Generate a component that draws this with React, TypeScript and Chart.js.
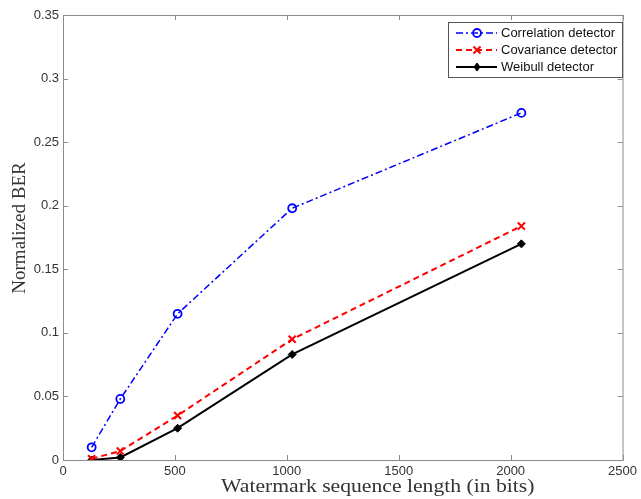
import React, { useEffect, useRef } from "react";
import { Chart, registerables } from "chart.js";

Chart.register(...registerables);

const xValues = [128, 256, 512, 1024, 2048];
const correlation = [0.01, 0.048, 0.115, 0.198, 0.273];
const covariance = [0.001, 0.007, 0.035, 0.095, 0.184];
const weibull = [0.0, 0.002, 0.025, 0.083, 0.17];
const seriesNames = ["Correlation detector", "Covariance detector", "Weibull detector"];
const xTitle = "Watermark sequence length (in bits)";
const yTitle = "Normalized BER";

const frameColor = "#8c8c8c";

function drawMarker(ctx: CanvasRenderingContext2D, style: string, x: number, y: number, r: number, stroke: string, fill: string, lw: number) {
  ctx.save();
  ctx.setLineDash([]);
  ctx.strokeStyle = stroke;
  ctx.fillStyle = fill;
  ctx.lineWidth = lw;
  ctx.beginPath();
  if (style === "circle") {
    ctx.arc(x, y, r, 0, Math.PI * 2);
    ctx.stroke();
  } else if (style === "crossRot") {
    const d = r * Math.SQRT1_2;
    ctx.moveTo(x - d, y - d);
    ctx.lineTo(x + d, y + d);
    ctx.moveTo(x + d, y - d);
    ctx.lineTo(x - d, y + d);
    ctx.stroke();
  } else {
    ctx.moveTo(x, y - r);
    ctx.lineTo(x + r * 0.75, y);
    ctx.lineTo(x, y + r);
    ctx.lineTo(x - r * 0.75, y);
    ctx.closePath();
    ctx.fill();
    ctx.stroke();
  }
  ctx.restore();
}

const framePlugin = {
  id: "matlabFrame",
  afterDraw(chart: any) {
    const { ctx, chartArea } = chart;
    const { left, right, top, bottom } = chartArea;
    const xs = chart.scales.x;
    const ys = chart.scales.y;
    ctx.save();
    ctx.strokeStyle = frameColor;
    ctx.lineWidth = 1;
    ctx.setLineDash([]);
    ctx.strokeRect(left + 0.5, top + 0.5, right - left, bottom - top);
    const tl = 5;
    ctx.beginPath();
    xs.ticks.forEach((t: any) => {
      const px = Math.round(xs.getPixelForValue(t.value)) + 0.5;
      ctx.moveTo(px, bottom);
      ctx.lineTo(px, bottom - tl);
      ctx.moveTo(px, top);
      ctx.lineTo(px, top + tl);
    });
    ys.ticks.forEach((t: any) => {
      const py = Math.round(ys.getPixelForValue(t.value)) + 0.5;
      ctx.moveTo(left, py);
      ctx.lineTo(left + tl, py);
      ctx.moveTo(right, py);
      ctx.lineTo(right - tl, py);
    });
    ctx.stroke();

    // axis titles
    ctx.fillStyle = "#333";
    ctx.font = '19px "Liberation Serif", serif';
    ctx.textAlign = "center";
    ctx.textBaseline = "middle";
    ctx.save();
    ctx.translate((left + right) / 2 + 35, 487);
    ctx.scale(1.14, 1);
    ctx.fillText(xTitle, 0, 0);
    ctx.restore();

    ctx.save();
    ctx.translate(20, 228);
    ctx.rotate(-Math.PI / 2);
    ctx.fillText(yTitle, 0, 0);
    ctx.restore();

    // legend
    const bx = 448, by = 22, bw = 174, bh = 55;
    ctx.fillStyle = "#fff";
    ctx.fillRect(bx, by, bw, bh);
    ctx.strokeStyle = "#555";
    ctx.lineWidth = 1;
    ctx.strokeRect(bx + 0.5, by + 0.5, bw, bh);
    ctx.font = '13px "Liberation Sans", Arial, sans-serif';
    ctx.textAlign = "left";
    chart.data.datasets.forEach((ds: any, i: number) => {
      const yy = by + 11 + i * 17;
      ctx.save();
      ctx.strokeStyle = ds.borderColor;
      ctx.lineWidth = ds.borderWidth;
      ctx.setLineDash(ds.borderDash || []);
      ctx.beginPath();
      ctx.moveTo(bx + 8, yy);
      ctx.lineTo(bx + 49, yy);
      ctx.stroke();
      ctx.restore();
      drawMarker(ctx, ds.pointStyle, bx + 29, yy, ds.pointRadius, ds.pointBorderColor, ds.pointBackgroundColor, ds.pointBorderWidth);
      ctx.fillStyle = "#111";
      ctx.fillText(ds.label, bx + 53, yy + 0.5);
    });
    ctx.restore();
  },
};

export default function App() {
  const ref = useRef<HTMLCanvasElement>(null);
  useEffect(() => {
    document.body.style.margin = "0";
    const canvas = ref.current!;
    const chart = new Chart(canvas, {
      type: "line",
      data: {
        datasets: [
          {
            label: seriesNames[0],
            data: xValues.map((x, i) => ({ x, y: correlation[i] })),
            borderColor: "#0000ff",
            borderWidth: 1.5,
            borderDash: [7, 3, 2, 3],
            pointStyle: "circle",
            pointRadius: 4,
            pointBorderColor: "#0000ff",
            pointBackgroundColor: "rgba(255,255,255,0)",
            pointBorderWidth: 1.8,
            tension: 0,
          } as any,
          {
            label: seriesNames[1],
            data: xValues.map((x, i) => ({ x, y: covariance[i] })),
            borderColor: "#ff0000",
            borderWidth: 2,
            borderDash: [6, 4],
            pointStyle: "crossRot",
            pointRadius: 5,
            pointBorderColor: "#ff0000",
            pointBackgroundColor: "#ff0000",
            pointBorderWidth: 2,
            tension: 0,
          } as any,
          {
            label: seriesNames[2],
            data: xValues.map((x, i) => ({ x, y: weibull[i] })),
            borderColor: "#000000",
            borderWidth: 2,
            borderDash: [],
            pointStyle: "rectRot",
            pointRadius: 4,
            pointBorderColor: "#000000",
            pointBackgroundColor: "#000000",
            pointBorderWidth: 1,
            tension: 0,
          } as any,
        ],
      },
      options: {
        animation: false,
        responsive: false,
        devicePixelRatio: 1,
        layout: { padding: { top: 15, right: 14, left: 0, bottom: 0 } },
        plugins: { legend: { display: false }, tooltip: { enabled: false } },
        scales: {
          x: {
            type: "linear",
            min: 0,
            max: 2500,
            grid: { display: false, drawTicks: false, tickLength: 0 },
            border: { display: false },
            ticks: {
              stepSize: 500,
              padding: 4,
              color: "#333",
              font: { family: '"Liberation Sans", Arial, sans-serif', size: 13 },
              maxRotation: 0,
              callback: (v: any) => String(v),
            },
            afterFit: (s: any) => {
              s.height = 39;
            },
          },
          y: {
            type: "linear",
            min: 0,
            max: 0.35,
            grid: { display: false, drawTicks: false, tickLength: 0 },
            border: { display: false },
            ticks: {
              stepSize: 0.05,
              padding: 4,
              color: "#333",
              font: { family: '"Liberation Sans", Arial, sans-serif', size: 13 },
              callback: (v: any) => String(Number(Number(v).toFixed(2))),
            },
            afterFit: (s: any) => {
              s.width = 63;
            },
          },
        },
      },
      plugins: [framePlugin],
    });
    return () => chart.destroy();
  }, []);
  return <canvas ref={ref} width={641} height={499} style={{ display: "block" }} />;
}
